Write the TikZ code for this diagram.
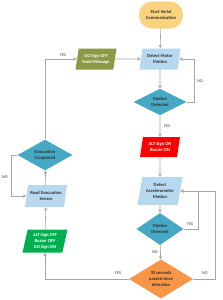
\documentclass[tikz,border=0pt]{standalone}
\usepackage{fontspec}
\setmainfont{Carlito}
\usetikzlibrary{shapes.geometric}

\definecolor{startor}{HTML}{FBD27E}
\definecolor{procblue}{HTML}{B7D9F0}
\definecolor{goolive}{HTML}{8C9A45}
\definecolor{decteal}{HTML}{45A9C6}
\definecolor{altred}{HTML}{FF0000}
\definecolor{offgreen}{HTML}{00B050}
\definecolor{timeor}{HTML}{F79646}
\definecolor{linegray}{HTML}{A6A6A6}
\definecolor{labgray}{HTML}{404040}
\definecolor{boxtext}{HTML}{303030}

\tikzset{
  flowline/.style={draw=linegray, line width=0.6bp, ->},
  iobox/.style={trapezium, trapezium left angle=72, trapezium right angle=108,
    trapezium stretches body, minimum height=21bp, inner sep=0pt, align=center},
  decision/.style={diamond, inner sep=0pt, align=center},
  answer/.style={text=labgray, font=\fontsize{4.3}{5}\selectfont, inner sep=0pt}
}

\begin{document}
\begin{tikzpicture}[>=stealth, x=1bp, y=-1bp, every node/.style={text=boxtext, font=\fontsize{4.6}{6}\selectfont\bfseries}]
  \useasboundingbox[fill=white] (0,0) rectangle (223,300);

  % right column
  \node[fill=startor, rounded corners=13bp, minimum width=44bp, minimum height=27bp, align=center, inner sep=0pt]
    (start) at (161,15) {Start Serial\\Communication};
  \node[iobox, fill=procblue, minimum width=41bp] (detm) at (160,59) {Detect Motor\\Motion};
  \node[decision, fill=decteal, minimum width=53bp, minimum height=26bp] (md1) at (160,102) {Motion\\Detected};
  \node[iobox, fill=altred, text=white, minimum width=40bp, minimum height=20bp] (alton) at (160,147) {ALT Sign ON\\Buzzer ON};
  \node[iobox, fill=procblue, minimum width=45bp, minimum height=28bp] (deta) at (160,191) {Detect\\Accelerometer\\Motion};
  \node[decision, fill=decteal, minimum width=47bp, minimum height=32bp] (md2) at (160,229) {Motion\\Detected};
  \node[decision, fill=timeor, minimum width=64bp, minimum height=37bp] (sec) at (161,279) {30 seconds\\passed since\\detection};

  % left column
  \node[iobox, fill=goolive, text=white, minimum width=41bp] (gooff) at (96,59) {GO Sign OFF\\Send Message};
  \node[decision, fill=decteal, minimum width=55bp, minimum height=26bp] (evc) at (45,155) {Evacuation\\Completed};
  \node[iobox, fill=procblue, minimum width=42bp, minimum height=22bp] (rdev) at (46,196) {Read Evacuation\\Sensor};
  \node[iobox, fill=offgreen, text=white, minimum width=45bp, minimum height=23bp] (altoff) at (45,241) {ALT Sign OFF\\Buzzer OFF\\GO Sign ON};

  % connectors
  \draw[flowline] (start) -- (detm);
  \draw[flowline] (detm) -- (md1);
  \draw[flowline] (md1.east) -- ++(7.5,0) |- (detm.east);
  \draw[flowline] (md1) -- (alton);
  \draw[flowline] (alton) -- (deta);
  \draw[flowline] (deta) -- (md2);
  \draw[flowline] (md2.east) -- ++(14.5,0) |- (deta.east);
  \draw[flowline] (md2) -- (sec);
  \draw[flowline] (sec.east) -- ++(22,0) |- (deta.east);
  \draw[flowline] (sec.west) -| (altoff.south);
  \draw[flowline] (altoff) -- (rdev);
  \draw[flowline] (rdev) -- (evc);
  \draw[flowline] (evc.west) -- ++(-6.5,0) |- (rdev.west);
  \draw[flowline] (evc.north) |- (gooff.west);
  \draw[flowline] (gooff) -- (detm);

  % branch labels
  \node[answer] (yesgo) at (63,55) {YES};
  \node[answer] (nomotor) at (200,81) {NO};
  \node[answer] (yesmotor) at (167,126) {YES};
  \node[answer] (yesacc) at (190,224) {YES};
  \node[answer] (noacc) at (155,252) {NO};
  \node[answer] (notime) at (205,273) {NO};
  \node[answer] (yestime) at (118,273) {YES};
  \node[answer] (noevac) at (5,177) {NO};
\end{tikzpicture}
\end{document}
